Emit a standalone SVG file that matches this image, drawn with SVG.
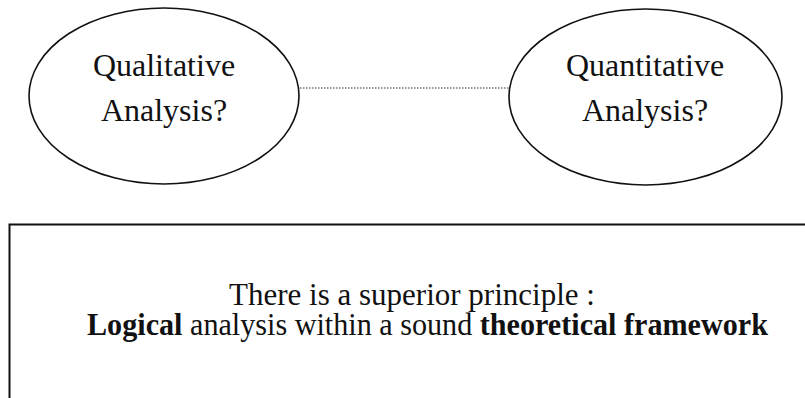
<svg xmlns="http://www.w3.org/2000/svg" width="805" height="398" viewBox="0 0 805 398">
<style>
.shape{fill:none;stroke:#111;stroke-width:1.6}
.lbl{font-family:"Liberation Serif","Times New Roman",serif;font-size:32px;fill:#111;text-anchor:middle}
.main{font-family:"Liberation Serif","Times New Roman",serif;font-size:31px;fill:#111}
.b{font-weight:bold}
.dot{fill:none;stroke:#333;stroke-width:1.2;stroke-dasharray:1.5 1.5}
</style>
<rect width="805" height="398" fill="#fff"/>
<g id="connectors">
<line class="dot" x1="300" y1="88" x2="509" y2="88"/>
</g>
<g id="qualitative">
<ellipse class="shape" cx="164" cy="96" rx="135" ry="88"/>
<text class="lbl" x="164" y="76">Qualitative</text>
<text class="lbl" x="164" y="121">Analysis?</text>
</g>
<g id="quantitative">
<ellipse class="shape" cx="645.5" cy="97" rx="136.5" ry="88"/>
<text class="lbl" x="645" y="76">Quantitative</text>
<text class="lbl" x="645" y="121">Analysis?</text>
</g>
<g id="principle">
<rect x="9.5" y="224.5" width="820" height="200" fill="none" stroke="#111" stroke-width="2"/>
<text class="main" x="412" y="305" text-anchor="middle" font-size="32">There is a superior principle :</text>
<text class="main" x="87" y="335" textLength="681" lengthAdjust="spacingAndGlyphs"><tspan class="b">Logical</tspan> analysis within a sound <tspan class="b">theoretical framework</tspan></text>
</g>
</svg>
